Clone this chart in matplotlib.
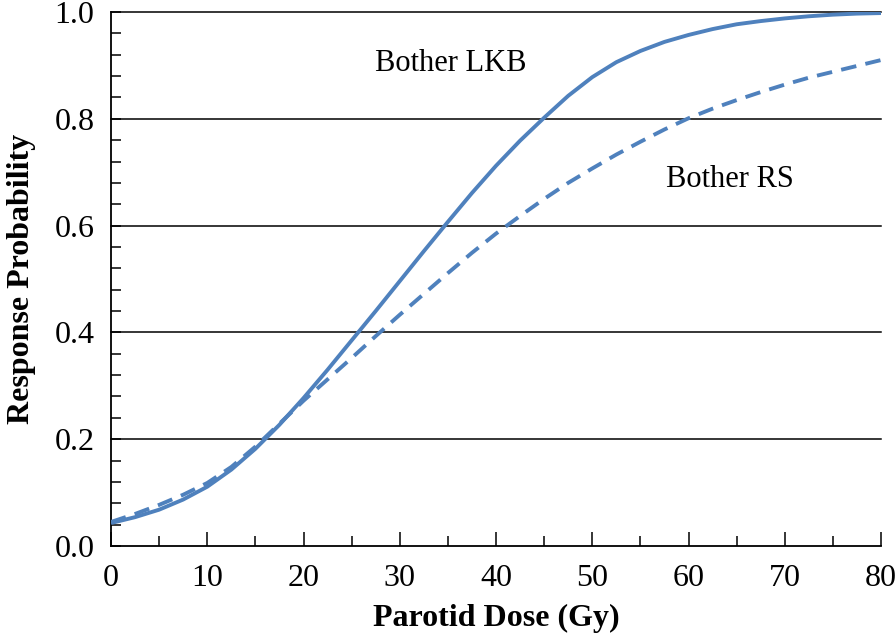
import matplotlib
matplotlib.use("Agg")
import matplotlib.pyplot as plt
from matplotlib.ticker import MultipleLocator

# ---- data ----
dose = [0, 2.5, 5, 7.5, 10, 12.5, 15, 17.5, 20, 22.5, 25, 27.5, 30, 32.5, 35, 37.5,
        40, 42.5, 45, 47.5, 50, 52.5, 55, 57.5, 60, 62.5, 65, 67.5, 70, 72.5, 75, 77.5, 80]
lkb = [0.043, 0.054, 0.068, 0.087, 0.111, 0.143, 0.182, 0.227, 0.277, 0.330, 0.385,
       0.440, 0.496, 0.552, 0.607, 0.661, 0.712, 0.759, 0.802, 0.843, 0.878, 0.906,
       0.927, 0.944, 0.957, 0.968, 0.977, 0.983, 0.988, 0.992, 0.995, 0.997, 0.998]
rs = [0.045, 0.060, 0.077, 0.096, 0.118, 0.148, 0.186, 0.229, 0.272, 0.312, 0.352,
      0.393, 0.433, 0.472, 0.511, 0.549, 0.585, 0.618, 0.650, 0.680, 0.707, 0.733,
      0.757, 0.780, 0.801, 0.819, 0.835, 0.850, 0.864, 0.877, 0.888, 0.899, 0.910]
x_ticks = [0, 10, 20, 30, 40, 50, 60, 70, 80]
y_ticks = [0.0, 0.2, 0.4, 0.6, 0.8, 1.0]
y_tick_labels = ["0.0", "0.2", "0.4", "0.6", "0.8", "1.0"]
label_lkb = "Bother LKB"
label_rs = "Bother RS"

plt.rcParams['font.family'] = ['Liberation Serif', 'DejaVu Serif']

fig = plt.figure(figsize=(8.96, 6.38), dpi=100)
ax = fig.add_axes([111/896, 1-546/638, (881-111)/896, (546-12)/638])

color = "#4F81BD"
ax.plot(dose, lkb, color=color, lw=2.8, solid_capstyle='butt',
        solid_joinstyle='round', zorder=3)
ax.plot(dose, rs, color=color, lw=2.8, dashes=(4.0, 2.4), zorder=3)

ax.set_xlim(0, 80)
ax.set_ylim(0, 1.0)

for yv in y_ticks[1:]:
    ax.axhline(yv, color="black", lw=1.1, zorder=1, clip_on=False)

ax.set_xticks(x_ticks)
ax.set_xticklabels([str(v) for v in x_ticks])
ax.set_yticks(y_ticks)
ax.set_yticklabels(y_tick_labels)
ax.xaxis.set_minor_locator(MultipleLocator(5))
ax.yaxis.set_minor_locator(MultipleLocator(0.04))

ax.tick_params(axis='x', which='major', direction='in', length=10, width=1.1,
               labelsize=23, pad=13)
ax.tick_params(axis='x', which='minor', direction='in', length=7, width=1.1)
ax.tick_params(axis='y', which='major', direction='in', length=7, width=1.1,
               labelsize=23, pad=12)
ax.tick_params(axis='y', which='minor', direction='in', length=7, width=1.1)

for s in ['top', 'right']:
    ax.spines[s].set_visible(False)
for s in ['left', 'bottom']:
    ax.spines[s].set_linewidth(1.3)
    ax.spines[s].set_color('black')

ax.set_xlabel("Parotid Dose (Gy)", fontsize=23, fontweight='bold', labelpad=8)
ax.set_ylabel("Response Probability", fontsize=23, fontweight='bold', labelpad=13)

ax.text(35.3, 0.903, label_lkb, fontsize=22, ha='center', va='center')
ax.text(64.3, 0.686, label_rs, fontsize=22, ha='center', va='center')

fig.savefig("out.png", dpi=100)
